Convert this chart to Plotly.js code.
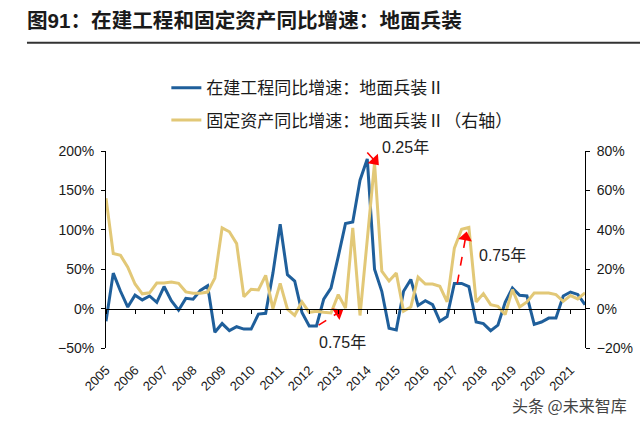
<!DOCTYPE html>
<html>
<head>
<meta charset="utf-8">
<script src="https://cdn.plot.ly/plotly-3.0.1.min.js"></script>
<style>
  html, body { margin: 0; padding: 0; background: #fff; }
  #chart { width: 640px; height: 423px; }
</style>
</head>
<body>
<div id="chart"></div>
<script>
// Quarterly periods, 2005Q1 - 2021Q3
const quarters = [
  '2005Q1','2005Q2','2005Q3','2005Q4','2006Q1','2006Q2','2006Q3','2006Q4',
  '2007Q1','2007Q2','2007Q3','2007Q4','2008Q1','2008Q2','2008Q3','2008Q4',
  '2009Q1','2009Q2','2009Q3','2009Q4','2010Q1','2010Q2','2010Q3','2010Q4',
  '2011Q1','2011Q2','2011Q3','2011Q4','2012Q1','2012Q2','2012Q3','2012Q4',
  '2013Q1','2013Q2','2013Q3','2013Q4','2014Q1','2014Q2','2014Q3','2014Q4',
  '2015Q1','2015Q2','2015Q3','2015Q4','2016Q1','2016Q2','2016Q3','2016Q4',
  '2017Q1','2017Q2','2017Q3','2017Q4','2018Q1','2018Q2','2018Q3','2018Q4',
  '2019Q1','2019Q2','2019Q3','2019Q4','2020Q1','2020Q2','2020Q3','2020Q4',
  '2021Q1','2021Q2','2021Q3'
];

// Year tick positions and labels on the category axis
const yearTicks = ['2005Q1','2006Q1','2007Q1','2008Q1','2009Q1','2010Q1','2011Q1','2012Q1',
  '2013Q1','2014Q1','2015Q1','2016Q1','2017Q1','2018Q1','2019Q1','2020Q1','2021Q1'];
const yearLabels = ['2005','2006','2007','2008','2009','2010','2011','2012',
  '2013','2014','2015','2016','2017','2018','2019','2020','2021'];

// 在建工程同比增速 (%), left axis
const cipGrowth = [
  -16, 45, 22, 2, 17, 11, 16, 8,
  28, 10, -2, 13, 12, 23, 29, -30,
  -19, -28, -23, -26, -26, -7, -6, 45,
  107, 43, 35, -5, -22, -22, 12, 26,
  66, 108, 110, 163, 190, 50, 22, -25,
  -27, 22, 37, 4, 10, 5, -16, -10,
  32, 32, 28, -17, -19, -28, -21, 8,
  26, 17, 16, -20, -17, -12, -12, 16,
  21, 18, 5
];

// 固定资产同比增速 (%), right axis
const fixedAssetGrowth = [
  56, 28, 27, 21, 12.5, 7.5, 8, 13,
  13, 13.5, 12.8, 8.5, 7.8, 7.8, 8.4, 15.5,
  41, 39, 33, 6, 9.8, 9.5, 16.9, 0,
  12.8, -0.3, -3.4, 3.4, -1.9, -1.4, -1.9, -2.2,
  7.1, 0.3, 41, -3.5, 35, 74, 19, 14,
  18, -1.3, 0.8, 16, 12.5, 12.5, 11.3, 3.4,
  30.7, 40.3, 41.2, 3.4, 7.6, 2, 1.2, -3,
  9.6, 0.8, 3.4, 7.9, 7.9, 7.9, 7.1, 3.7,
  6.6, 4.9, 8
];

// Lag callouts: dashed arrow tail -> head and label centre, as [quarter index, left-axis %]
const lagNotes = [
  { text: '0.75年', tail: [29.3, -21], head: [32.7, -1],  label: [32.55, -42.4] },
  { text: '0.25年', tail: [36.0, 198], head: [37.6, 182], label: [41.24, 204.4] },
  { text: '0.75年', tail: [48.4, 32],  head: [49.7, 98],  label: [54.6, 67.7] }
];

const BLUE = '#1f5f9b';
const GOLD = '#e2c877';
const RED = '#ff0000';
const LATIN = '"Liberation Sans", Arial, "Noto Sans CJK SC", sans-serif';
const CJK = '"Noto Sans CJK SC", "Liberation Sans", sans-serif';

// plot geometry
const W = 640, H = 423;
const M = { l: 106, r: 55, t: 151, b: 75 };
const X_RANGE = [0, 66];
const Y_RANGE = [-50, 200];
const pxPerX = (W - M.l - M.r) / (X_RANGE[1] - X_RANGE[0]);
const pxPerY = (H - M.t - M.b) / (Y_RANGE[1] - Y_RANGE[0]);

const traces = [
  {
    x: quarters, y: cipGrowth, type: 'scatter', mode: 'lines',
    name: '在建工程同比增速：地面兵装Ⅱ', legendgroup: 'a',
    line: { color: BLUE, width: 3 }, xaxis: 'x', yaxis: 'y', hoverinfo: 'skip'
  },
  {
    x: quarters, y: fixedAssetGrowth, type: 'scatter', mode: 'lines',
    name: '固定资产同比增速：地面兵装Ⅱ（右轴）', legendgroup: 'b',
    line: { color: GOLD, width: 3 }, xaxis: 'x', yaxis: 'y2', hoverinfo: 'skip'
  }
];

const annotations = [];
const HEAD = 12;               // arrowhead marker size
lagNotes.forEach(n => {
  // dashed shaft
  traces.push({
    x: [n.tail[0], n.head[0]], y: [n.tail[1], n.head[1]], type: 'scatter', mode: 'lines',
    xaxis: 'x2', yaxis: 'y', showlegend: false, hoverinfo: 'skip', cliponaxis: false,
    line: { color: RED, width: 1.6, dash: 'dash' }
  });
  // arrowhead: triangle marker rotated along the shaft, tip on the head point
  const dx = (n.head[0] - n.tail[0]) * pxPerX;
  const dy = -(n.head[1] - n.tail[1]) * pxPerY;
  const len = Math.hypot(dx, dy);
  const ux = dx / len, uy = dy / len;
  const r = HEAD / 2;
  traces.push({
    x: [n.head[0] - ux * r / pxPerX], y: [n.head[1] + uy * r / pxPerY],
    type: 'scatter', mode: 'markers', xaxis: 'x2', yaxis: 'y',
    showlegend: false, hoverinfo: 'skip', cliponaxis: false,
    marker: { symbol: 'triangle-up', size: HEAD, color: RED,
              angle: Math.atan2(dx, -dy) * 180 / Math.PI, line: { width: 0 } }
  });
  annotations.push({
    x: n.label[0], xref: 'x2',
    y: (n.label[1] - Y_RANGE[0]) / (Y_RANGE[1] - Y_RANGE[0]), yref: 'y domain',
    text: n.text, showarrow: false, xanchor: 'center', yanchor: 'middle',
    font: { family: LATIN, size: 16, color: '#222' }
  });
});

annotations.push({ x: 1.091, y: -0.289, xref: 'paper', yref: 'paper', xanchor: 'right', yanchor: 'middle',
  text: '头条 @未来智库', showarrow: false, font: { family: CJK, size: 16, color: '#444' } });

const shapes = [
  // rule under the heading
  { type: 'line', xref: 'paper', yref: 'paper', x0: -0.165, x1: 1.12, y0: 1.549, y1: 1.549,
    line: { color: '#333', width: 2 } }
];

const layout = {
  width: W, height: H,
  margin: M,
  paper_bgcolor: '#fff', plot_bgcolor: '#fff',
  title: {
    text: '图91：在建工程和固定资产同比增速：地面兵装',
    x: 27 / W, xanchor: 'left', xref: 'container',
    y: 1 - 21 / H, yanchor: 'middle', yref: 'container',
    font: { family: LATIN, size: 20.6, color: '#1a1a1a', weight: 'bold' }
  },
  showlegend: true,
  legend: {
    x: 0.126, y: 1.41, xanchor: 'left', yanchor: 'top',
    bgcolor: 'rgba(0,0,0,0)', tracegroupgap: 7, traceorder: 'grouped',
    font: { family: CJK, size: 17, color: '#1a1a1a' }
  },
  xaxis: {
    type: 'category', range: X_RANGE,
    tickmode: 'array', tickvals: yearTicks, ticktext: yearLabels,
    tickangle: -45, ticks: '', showline: false, showgrid: false, zeroline: false,
    ticklabelstandoff: 11,
    tickfont: { family: LATIN, size: 13, color: '#1a1a1a' }
  },
  // axis line through 0% carrying the year tick marks
  xaxis2: {
    overlaying: 'x', anchor: 'free', position: (0 - Y_RANGE[0]) / (Y_RANGE[1] - Y_RANGE[0]),
    type: 'linear', range: X_RANGE,
    tickmode: 'array', tickvals: [0, 4, 8, 12, 16, 20, 24, 28, 32, 36, 40, 44, 48, 52, 56, 60, 64],
    showticklabels: false, ticks: 'outside', ticklen: 4, tickcolor: '#000', tickwidth: 1,
    showline: true, linecolor: '#000', linewidth: 1.2, showgrid: false, zeroline: false
  },
  yaxis: {
    range: Y_RANGE, tickmode: 'linear', tick0: -50, dtick: 50, ticksuffix: '%',
    showline: true, linecolor: '#000', linewidth: 1, ticks: 'outside', ticklen: 4, tickcolor: '#000',
    showgrid: false, zeroline: false, ticklabelstandoff: 4,
    tickfont: { family: LATIN, size: 14, color: '#1a1a1a' }
  },
  yaxis2: {
    overlaying: 'y', side: 'right', range: [-20, 80], tickmode: 'linear', tick0: -20, dtick: 20,
    ticksuffix: '%', showline: true, linecolor: '#000', linewidth: 1, ticks: 'outside', ticklen: 4,
    tickcolor: '#000', showgrid: false, zeroline: false, ticklabelstandoff: 4,
    tickfont: { family: LATIN, size: 14, color: '#1a1a1a' }
  },
  shapes: shapes,
  annotations: annotations
};

Plotly.newPlot('chart', traces, layout, { staticPlot: true, displayModeBar: false });
</script>
</body>
</html>
